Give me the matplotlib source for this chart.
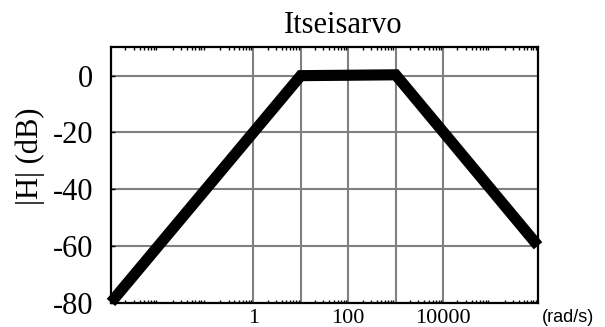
import matplotlib
matplotlib.use("Agg")
import matplotlib.pyplot as plt
from matplotlib.ticker import LogLocator, NullFormatter, FixedLocator, FixedFormatter

# Data (asymptotic Bode magnitude)
freq = [1e-3, 10, 1000, 1e6]
mag_db = [-80, 0, 0.3, -60]
xtick_vals = [1, 100, 10000]
xtick_labels = ["1", "100", "10000"]
ytick_vals = [0, -20, -40, -60, -80]
ytick_labels = ["0", "-20", "-40", "-60", "-80"]
vgrid_vals = [1, 10, 100, 1000, 10000]
hgrid_vals = [0, -20, -40, -60]

W, H = 605, 327
fig = plt.figure(figsize=(W / 100, H / 100), dpi=100)
ax = fig.add_axes([111 / W, 1 - 302.5 / H, (538 - 111) / W, (302.5 - 47.3) / H])

ax.set_xscale("log")
ax.set_xlim(1e-3, 1e6)
ax.set_ylim(-80, 10)

grid_col = "#808080"
for v in vgrid_vals:
    ax.axvline(v, color=grid_col, lw=1.5, zorder=1)
for h in hgrid_vals:
    ax.axhline(h, color=grid_col, lw=1.5, zorder=1)

ax.plot(freq, mag_db, color="black", lw=8, solid_capstyle="butt",
        solid_joinstyle="miter", clip_on=False, zorder=5)

serif = ["Liberation Serif", "DejaVu Serif"]

ax.xaxis.set_major_locator(FixedLocator(xtick_vals))
ax.xaxis.set_major_formatter(FixedFormatter(xtick_labels))
ax.xaxis.set_minor_locator(LogLocator(base=10, subs=[2, 3, 4, 5, 6, 7, 8, 9], numticks=20))
ax.xaxis.set_minor_formatter(NullFormatter())
ax.yaxis.set_major_locator(FixedLocator(ytick_vals))
ax.yaxis.set_major_formatter(FixedFormatter(ytick_labels))

ax.tick_params(axis="x", which="major", direction="in", length=0, pad=5,
               labelsize=16, top=False)
ax.tick_params(axis="x", which="minor", direction="in", length=2.5, width=1,
               top=True, bottom=True)
ax.tick_params(axis="y", which="major", direction="in", length=3, width=1,
               pad=13, labelsize=22, right=False)
for lab in ax.get_xticklabels() + ax.get_yticklabels():
    lab.set_family(serif)

for s in ax.spines.values():
    s.set_linewidth(1.6)
    s.set_color("black")
    s.set_zorder(4)

fig.text(343 / W, 1 - 33 / H, "Itseisarvo", family=serif, fontsize=22,
         ha="center", va="baseline")
fig.text(30 / W, 1 - 156 / H, "|H| (dB)", family=serif, fontsize=22,
         ha="center", va="center", rotation=90)
fig.text(568 / W, 1 - 317 / H, "(rad/s)",
         family=["Liberation Sans", "DejaVu Sans"], fontsize=13,
         ha="center", va="center")

fig.savefig("out.png", dpi=100)
